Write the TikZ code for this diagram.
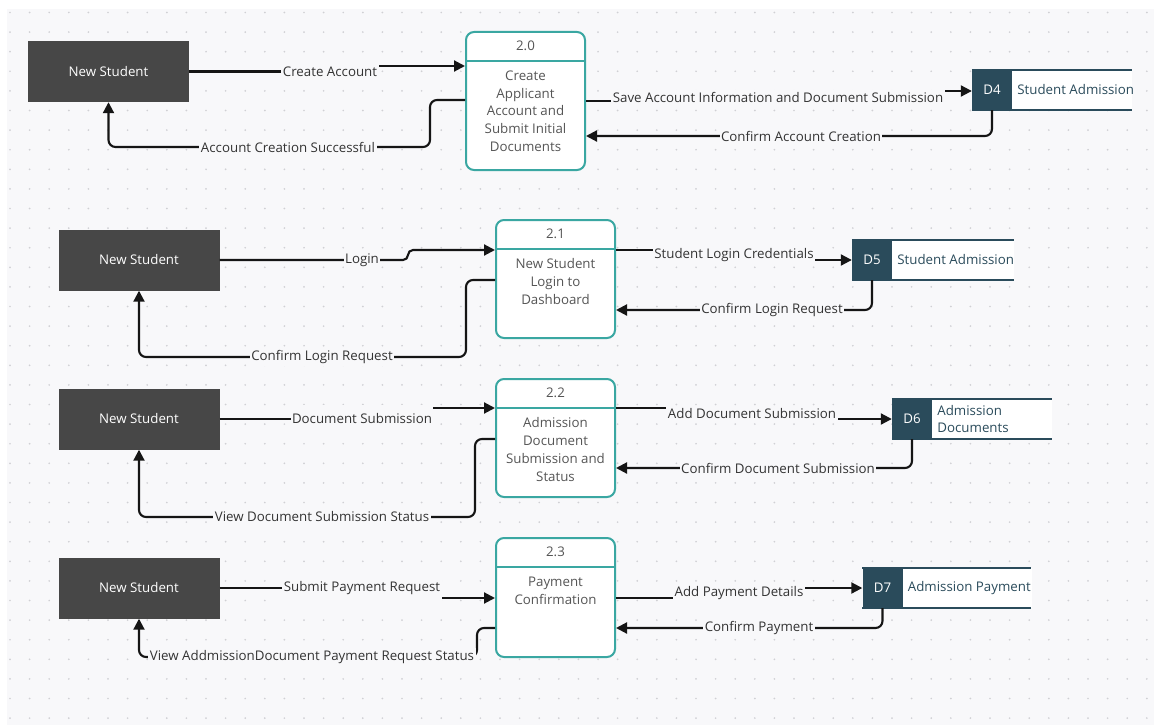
\documentclass[tikz,border=0pt]{standalone}
\usepackage{fontspec}
\setmainfont{Open Sans}
\usetikzlibrary{arrows.meta,calc}
\definecolor{pagebg}{HTML}{F8F8FA}
\definecolor{griddot}{HTML}{D0D0D4}
\definecolor{entityfill}{HTML}{474747}
\definecolor{procedge}{HTML}{3AA7A2}
\definecolor{storefill}{HTML}{2A4B5B}
\definecolor{ink}{HTML}{151515}
\definecolor{labelink}{HTML}{333333}
\definecolor{procink}{HTML}{555555}
\begin{document}
\begin{tikzpicture}[x=1pt,y=-1pt,
  font=\fontsize{13.3}{17.8}\selectfont,
  entity/.style={rectangle, fill=entityfill, text=white, minimum width=161pt, minimum height=61pt, inner sep=0pt},
  procbox/.style={rectangle, draw=procedge, line width=2pt, rounded corners=8pt, fill=white, minimum width=119pt, inner sep=0pt},
  procid/.style={text=procink, inner sep=0pt},
  procbody/.style={text=procink, align=center, anchor=north, inner sep=0pt},
  storebox/.style={rectangle, fill=storefill, text=white, minimum size=40pt, inner sep=0pt},
  storename/.style={anchor=west, text=storefill, align=left, inner sep=0pt},
  storeline/.style={draw=storefill, line width=2pt},
  flow/.style={draw=ink, line width=2.1pt, -{Triangle[length=11pt,width=11pt]}},
  elbow/.style={flow, rounded corners=7pt},
  lbl/.style={fill=pagebg, text=labelink, inner xsep=1.5pt, inner ysep=2pt},
]
% canvas and dotted grid
\useasboundingbox (0,0) rectangle (1154,725);
\fill[white] (0,0) rectangle (1154,725);
\fill[pagebg] (7,9) rectangle (1154,725);
\foreach \i in {0,...,58}
  \foreach \j in {0,...,36}
    \fill[griddot] ({10+19.6*\i},{12.5+19.6*\j}) circle[radius=0.95pt];

% external entities
\node[entity] (ns1) at (108.5,71.5) {New Student};
\node[entity] (ns2) at (139,260) {New Student};
\node[entity] (ns3) at (139,419) {New Student};
\node[entity] (ns4) at (139,588) {New Student};

% processes
\node[procbox, minimum height=138pt] (p20) at (525.5,101) {};
\node[procbox, minimum height=118pt] (p21) at (555.5,279) {};
\node[procbox, minimum height=118pt] (p22) at (555.5,438) {};
\node[procbox, minimum height=119pt] (p23) at (555.5,597.5) {};
\foreach \p/\id in {p20/2.0, p21/2.1, p22/2.2, p23/2.3}{
  \draw[procedge, line width=2pt] ($(\p.north west)+(0,30)$) -- ($(\p.north east)+(0,30)$);
  \node[procid] (\p id) at ($(\p.north)+(0,15)$) {\id};
}
\node[procbody] (p20txt) at ($(p20.north)+(0,39.5)$) {Create\\Applicant\\Account and\\Submit Initial\\Documents};
\node[procbody] (p21txt) at ($(p21.north)+(0,39.5)$) {New Student\\Login to\\Dashboard};
\node[procbody] (p22txt) at ($(p22.north)+(0,39.5)$) {Admission\\Document\\Submission and\\Status};
\node[procbody] (p23txt) at ($(p23.north)+(0,39.5)$) {Payment\\Confirmation};

% data stores
\node[storebox] (d4) at (992,90) {D4};
\node[storebox] (d5) at (872,260) {D5};
\node[storebox] (d6) at (912,419) {D6};
\node[storebox] (d7) at (882.5,588) {D7};
\foreach \d/\len in {d4/120, d5/122, d6/120, d7/129}{
  \fill[white] (\d.north east) rectangle ($(\d.south east)+(\len,0)$);
  \draw[storeline] (\d.north west) -- ++(\len+40,0);
  \draw[storeline] (\d.south west) -- ++(\len+40,0);
}
\node[storename] (d4n) at ($(d4.east)+(5,0)$) {Student Admission};
\node[storename] (d5n) at ($(d5.east)+(5,0)$) {Student Admission};
\node[storename] (d6n) at ($(d6.east)+(5,0)$) {Admission\\Documents};
\node[storename] (d7n) at ($(d7.east)+(5,0)$) {Admission Payment};

% row 2.0
\draw[flow] (ns1.east) -- ++(141,0) -- ++(0,-5.5) -- (p20.west |- 0,66);
\draw[elbow] (p20.west |- 0,100) -- (430,100) -- (430,147) -- (ns1.south |- 0,147) -- (ns1.south);
\draw[flow] (p20.east |- 0,101) -- (778,101) -- (778,91) -- (d4.west |- 0,91);
\draw[elbow] (d4.south) -- (d4.south |- 0,136) -- (p20.east |- 0,136);
\node[lbl] (l1) at (330,71.5) {Create Account};
\node[lbl] (l2) at (288,147) {Account Creation Successful};
\node[lbl] (l3) at (778,97) {Save Account Information and Document Submission};
\node[lbl] (l4) at (801,136) {Confirm Account Creation};

% row 2.1
\draw[flow, rounded corners=5pt] (ns2.east) -- (408,260) -- (408,250) -- (p21.west |- 0,250);
\draw[elbow] (p21.west |- 0,280) -- (466,280) -- (466,357) -- (ns2.south |- 0,357) -- (ns2.south);
\draw[flow] (p21.east |- 0,250) -- (734,250) -- (734,260) -- (d5.west);
\draw[elbow] (d5.south) -- (d5.south |- 0,310) -- (p21.east |- 0,310);
\node[lbl] (l5) at (362,260) {Login};
\node[lbl] (l6) at (322,357) {Confirm Login Request};
\node[lbl] (l7) at (734,255) {Student Login Credentials};
\node[lbl] (l8) at (772,310) {Confirm Login Request};

% row 2.2
\draw[flow] (ns3.east) -- (362,419) -- (362,408) -- (p22.west |- 0,408);
\draw[elbow] (p22.west |- 0,439) -- (475,439) -- (475,517) -- (ns3.south |- 0,517) -- (ns3.south);
\draw[flow] (p22.east |- 0,408) -- (752,408) -- (752,419) -- (d6.west);
\draw[elbow] (d6.south) -- (d6.south |- 0,468) -- (p22.east |- 0,468);
\node[lbl, minimum height=28pt] (l9) at (362,419) {Document Submission};
\node[lbl] (l10) at (322,517) {View Document Submission Status};
\node[lbl] (l11) at (752,414) {Add Document Submission};
\node[lbl] (l12) at (778,468) {Confirm Document Submission};

% row 2.3
\draw[flow] (ns4.east) -- (362,588) -- (362,598) -- (p23.west |- 0,598);
\draw[elbow] (p23.west |- 0,628) -- (477,628) -- (477,657) -- (ns4.south |- 0,657) -- (ns4.south);
\draw[flow] (p23.east |- 0,598) -- (739,598) -- (739,588) -- (d7.west);
\draw[elbow] (d7.south) -- (d7.south |- 0,628) -- (p23.east |- 0,628);
\node[lbl, minimum height=28pt] (l13) at (362,588) {Submit Payment Request};
\node[lbl] (l14) at (312,657) {View AddmissionDocument Payment Request Status};
\node[lbl] (l15) at (739,593) {Add Payment Details};
\node[lbl] (l16) at (759,628) {Confirm Payment};
\end{tikzpicture}
\end{document}
